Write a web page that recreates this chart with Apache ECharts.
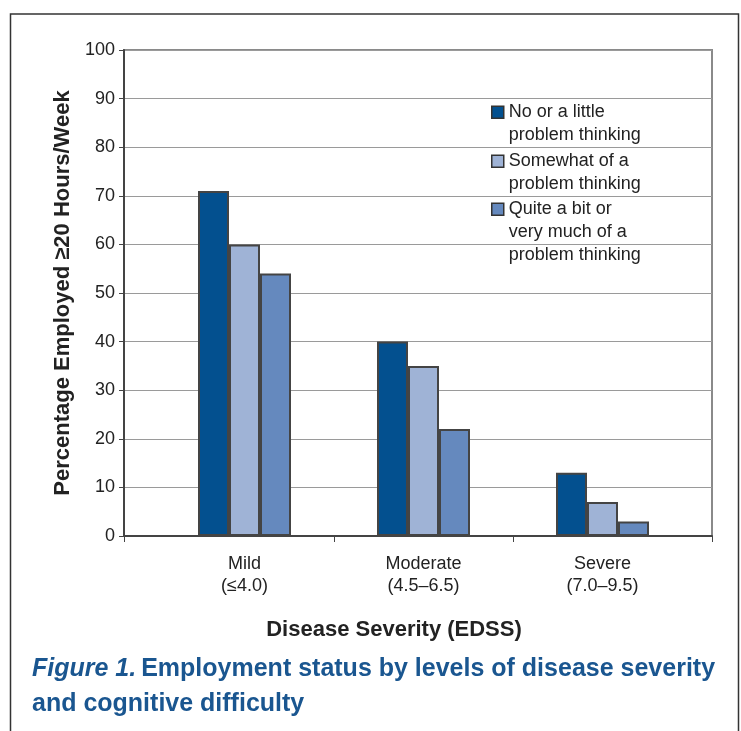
<!DOCTYPE html>
<html>
<head>
<meta charset="utf-8">
<script src="https://cdn.jsdelivr.net/npm/echarts@6/dist/echarts.min.js"></script>
<style>html,body{margin:0;padding:0;background:#fff;}#c{width:741px;height:731px;}</style>
</head>
<body>
<div id="c"></div>
<script>
const categories = ['Mild\n(\u22644.0)', 'Moderate\n(4.5\u20136.5)', 'Severe\n(7.0\u20139.5)'];
const seriesNames = ['No or a little\nproblem thinking', 'Somewhat of a\nproblem thinking', 'Quite a bit or\nvery much of a\nproblem thinking'];
const noLittle = [71, 40, 13];
const somewhat = [60, 35, 7];
const quiteABit = [54, 22, 3];
const colors = ['#03508f', '#9fb3d6', '#6589be'];
const yTitle = 'Percentage Employed \u226520 Hours/Week';
const xTitle = 'Disease Severity (EDSS)';
const captionItalic = 'Figure 1.';
const captionRest1 = 'Employment status by levels of disease severity';
const captionRest2 = 'and cognitive difficulty';

const FONT = '"Liberation Sans", Arial, sans-serif';
const chart = echarts.init(document.getElementById('c'));
const values = [noLittle, somewhat, quiteABit];
const legendTops = [100, 149, 197];
const legendHeights = [46, 46, 69];

chart.setOption({
  animation: false,
  backgroundColor: '#fff',
  textStyle: { fontFamily: FONT },
  graphic: [{
    type: 'rect', shape: { x: 10.5, y: 14, width: 728, height: 760 },
    style: { fill: 'none', stroke: '#333', lineWidth: 1.5 }, silent: true
  }],
  title: [{
    text: xTitle, left: 389, top: 614, textAlign: 'center',
    textStyle: { fontSize: 22, fontWeight: 'bold', color: '#222', fontFamily: FONT }
  }, {
    text: '{i|' + captionItalic + '} {b|' + captionRest1 + '}\n{b|' + captionRest2 + '}',
    left: 32, top: 652, padding: 0,
    textStyle: {
      rich: {
        i: { fontSize: 25, fontWeight: 'bold', fontStyle: 'italic', color: '#1a5690', lineHeight: 35, fontFamily: FONT },
        b: { fontSize: 25, fontWeight: 'bold', color: '#1a5690', lineHeight: 35, fontFamily: FONT }
      }
    }
  }],
  legend: seriesNames.map((n, i) => ({
    data: [{ name: n, icon: 'path://M0,5.5L12,5.5L12,17.5L0,17.5Z M0,0 M0,' + legendHeights[i] }],
    left: 491, top: legendTops[i], padding: 0,
    itemWidth: 12, itemHeight: legendHeights[i],
    selectedMode: false,
    itemStyle: { borderColor: '#333', borderWidth: 1.5 },
    textStyle: { fontSize: 18, lineHeight: 23, color: '#222', fontFamily: FONT }
  })),
  grid: [
    { left: 124, right: 29, top: 50, bottom: 195, show: true, borderColor: '#8a8a8a', borderWidth: 2 },
    { left: 155, right: 49, top: 50, bottom: 195 },
    // middle band only: its two boundary ticks mark the category separators
    { left: 334, width: 179, top: 50, bottom: 195 }
  ],
  xAxis: [{
    type: 'value', gridIndex: 0, min: 0, max: 1, interval: 1,
    axisLabel: { show: false }, splitLine: { show: false },
    axisLine: { lineStyle: { color: '#444', width: 2 } },
    axisTick: { show: true, length: 6, lineStyle: { color: '#444', width: 1 } }
  }, {
    type: 'category', gridIndex: 1, data: categories,
    axisLine: { show: false },
    axisTick: { show: false },
    axisLabel: { fontSize: 18, lineHeight: 22, margin: 17, color: '#222', fontFamily: FONT, interval: 0 }
  }, {
    type: 'category', gridIndex: 2, data: [categories[1]],
    axisLine: { show: false }, axisLabel: { show: false },
    axisTick: { show: true, length: 6, lineStyle: { color: '#444', width: 1 } }
  }],
  yAxis: [{
    type: 'value', gridIndex: 0, min: 0, max: 100, interval: 10,
    name: yTitle, nameLocation: 'middle', nameGap: 50,
    nameTextStyle: { fontSize: 22, fontWeight: 'bold', color: '#222', fontFamily: FONT },
    axisLabel: { fontSize: 18, color: '#222', margin: 9, fontFamily: FONT },
    axisTick: { show: true, length: 5, lineStyle: { color: '#444' } },
    axisLine: { show: true, lineStyle: { color: '#444', width: 2 } },
    splitLine: { lineStyle: { color: '#9a9a9a', width: 1 } }
  }, {
    type: 'value', gridIndex: 1, min: 0, max: 100, interval: 10, show: false, splitLine: { show: false }
  }, {
    type: 'value', gridIndex: 2, min: 0, max: 100, interval: 10, show: false, splitLine: { show: false }
  }],
  series: seriesNames.map((n, i) => ({
    type: 'bar', name: n, xAxisIndex: 1, yAxisIndex: 1,
    data: values[i], barWidth: 31, barGap: '0%',
    itemStyle: { color: colors[i], borderColor: '#444', borderWidth: 2 }
  }))
});
</script>
</body>
</html>
